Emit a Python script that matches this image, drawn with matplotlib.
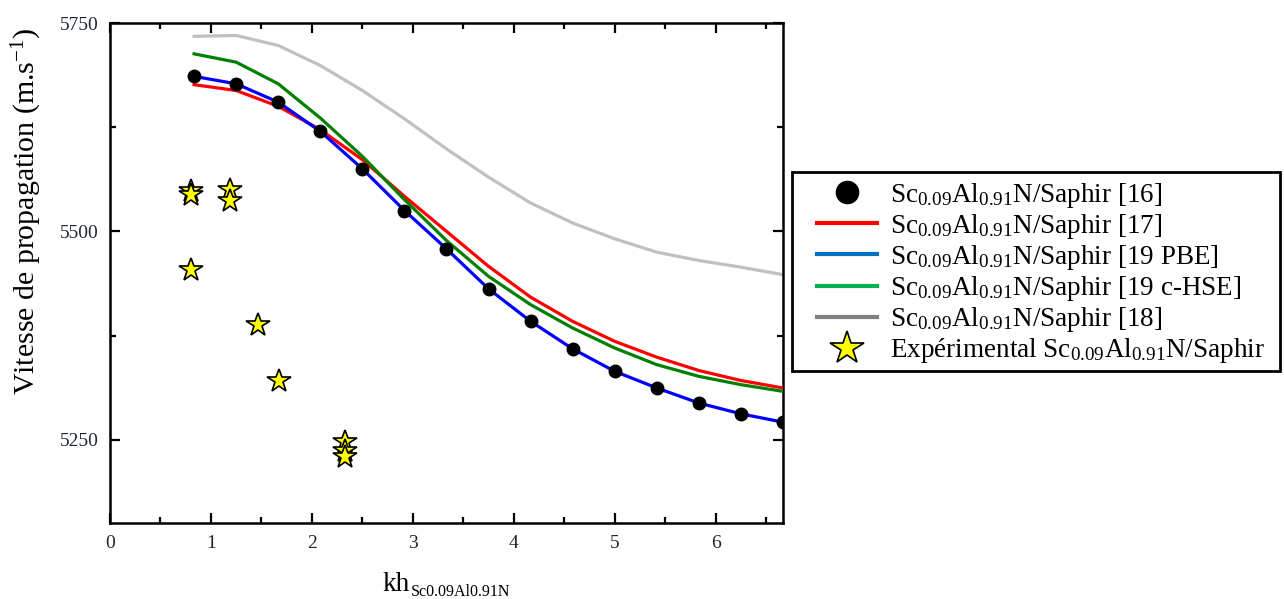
import matplotlib
matplotlib.use('Agg')
import matplotlib.pyplot as plt
from matplotlib.lines import Line2D
from matplotlib.patches import Rectangle
from matplotlib.ticker import MultipleLocator

plt.rcParams['font.family'] = ['Liberation Serif', 'DejaVu Serif']
plt.rcParams['mathtext.fontset'] = 'custom'
plt.rcParams['mathtext.rm'] = 'Liberation Serif'
plt.rcParams['mathtext.it'] = 'Liberation Serif:italic'
plt.rcParams['mathtext.bf'] = 'Liberation Serif:bold'
plt.rcParams['xtick.labelsize'] = 14
plt.rcParams['ytick.labelsize'] = 14

# ---------------- data ----------------
kh = [0.833, 1.25, 1.667, 2.083, 2.5, 2.917, 3.333, 3.75, 4.167, 4.583,
      5.0, 5.417, 5.833, 6.25, 6.667]
v_ref16 = [5686, 5677, 5655, 5620, 5575, 5525, 5479, 5431, 5392, 5359,
           5332, 5312, 5294, 5281, 5271]
v_ref17 = [5676, 5669, 5650, 5622, 5586, 5542, 5500, 5458, 5421, 5392,
           5368, 5349, 5333, 5321, 5312]
v_ref19_pbe = [5686, 5677, 5655, 5620, 5575, 5525, 5479, 5431, 5392, 5359,
               5332, 5312, 5294, 5281, 5271]
v_ref19_hse = [5713, 5703, 5677, 5636, 5590, 5538, 5489, 5446, 5412, 5384,
               5360, 5340, 5326, 5316, 5308]
v_ref18 = [5734, 5735, 5723, 5699, 5669, 5635, 5599, 5565, 5534, 5510,
           5491, 5475, 5465, 5457, 5448]

kh_exp = [0.80, 0.80, 0.80, 1.185, 1.185, 1.47, 1.67, 2.33, 2.33, 2.33]
v_exp = [5548, 5544, 5454, 5550, 5536, 5388, 5321, 5247, 5237, 5229]

labels = [
    r"Sc$_{0.09}$Al$_{0.91}$N/Saphir [16]",
    r"Sc$_{0.09}$Al$_{0.91}$N/Saphir [17]",
    r"Sc$_{0.09}$Al$_{0.91}$N/Saphir [19 PBE]",
    r"Sc$_{0.09}$Al$_{0.91}$N/Saphir [19 c-HSE]",
    r"Sc$_{0.09}$Al$_{0.91}$N/Saphir [18]",
    r"Expérimental Sc$_{0.09}$Al$_{0.91}$N/Saphir",
]
x_ticks = [0, 1, 2, 3, 4, 5, 6]
y_ticks = [5250, 5500, 5750]
x_label_main = "kh"
x_label_sub = "Sc0.09Al0.91N"
y_label = r"Vitesse de propagation (m.s$^{-1}$)"

# ---------------- figure ----------------
W, H = 1284, 599
fig = plt.figure(figsize=(W/100, H/100), dpi=100)
ax = fig.add_axes([110/W, 1 - 523/H, (783 - 110)/W, (523 - 23)/H])

lw = 2.3
ax.plot(kh, v_ref18, color='#c0c0c0', lw=lw, zorder=2)
ax.plot(kh, v_ref17, color='#ff0000', lw=lw, zorder=3)
ax.plot(kh, v_ref19_hse, color='#008000', lw=lw, zorder=3)
ax.plot(kh, v_ref19_pbe, color='#0000ff', lw=lw, zorder=4)
ax.plot(kh, v_ref16, linestyle='none', marker='o', ms=9, color='black', zorder=5)
ax.plot(kh_exp, v_exp, linestyle='none', marker='*', ms=17.5, mfc='#ffff00',
        mec='black', mew=1.2, zorder=6)

ax.set_xlim(0, 6.667)
ax.set_ylim(5150, 5750)
ax.set_xticks(x_ticks)
ax.set_yticks(y_ticks)
ax.xaxis.set_minor_locator(MultipleLocator(0.5))
ax.yaxis.set_minor_locator(MultipleLocator(125))
ax.tick_params(which='both', direction='in', top=True, right=True, width=1.6,
               colors='black')
ax.tick_params(which='major', length=7.5)
ax.tick_params(which='minor', length=4)
ax.tick_params(axis='x', which='major', pad=9, labelsize=14, labelcolor='#1e2535')
ax.tick_params(axis='y', which='major', pad=8, labelsize=14, labelcolor='#1e2535')
for s in ax.spines.values():
    s.set_linewidth(1.8)

ax.set_ylabel(y_label, fontsize=21.5)
ax.yaxis.set_label_coords(-0.098, 0.624)

# x label: main part + smaller subscript part
fig.text(410/W, 1 - 591/H, x_label_main, fontsize=19.5, ha='right', va='baseline')
fig.text(411/W, 1 - 596/H, x_label_sub, fontsize=11.5, ha='left', va='baseline')

# legend with proxy handles (legend colours differ from curves)
handles = [
    Line2D([], [], linestyle='none', marker='o', ms=16, color='black'),
    Line2D([], [], color='#ff0000', lw=3),
    Line2D([], [], color='#0070c0', lw=3),
    Line2D([], [], color='#00b050', lw=3),
    Line2D([], [], color='#808080', lw=3),
    Line2D([], [], linestyle='none', marker='*', ms=25, mfc='#ffff00',
           mec='black', mew=1.2),
]
leg = fig.legend(handles, labels, loc='upper left',
                 bbox_to_anchor=(817/W, 1 - 180.5/H), borderaxespad=0,
                 fontsize=19.5, frameon=False,
                 handlelength=2.2, handletextpad=0.48, labelspacing=0.08,
                 borderpad=0)
fig.add_artist(Rectangle((792/W, 1 - 371/H), (1280 - 792)/W, (371 - 172)/H,
                         transform=fig.transFigure, fill=False,
                         edgecolor='black', linewidth=2))

fig.savefig('out.png', dpi=100)
